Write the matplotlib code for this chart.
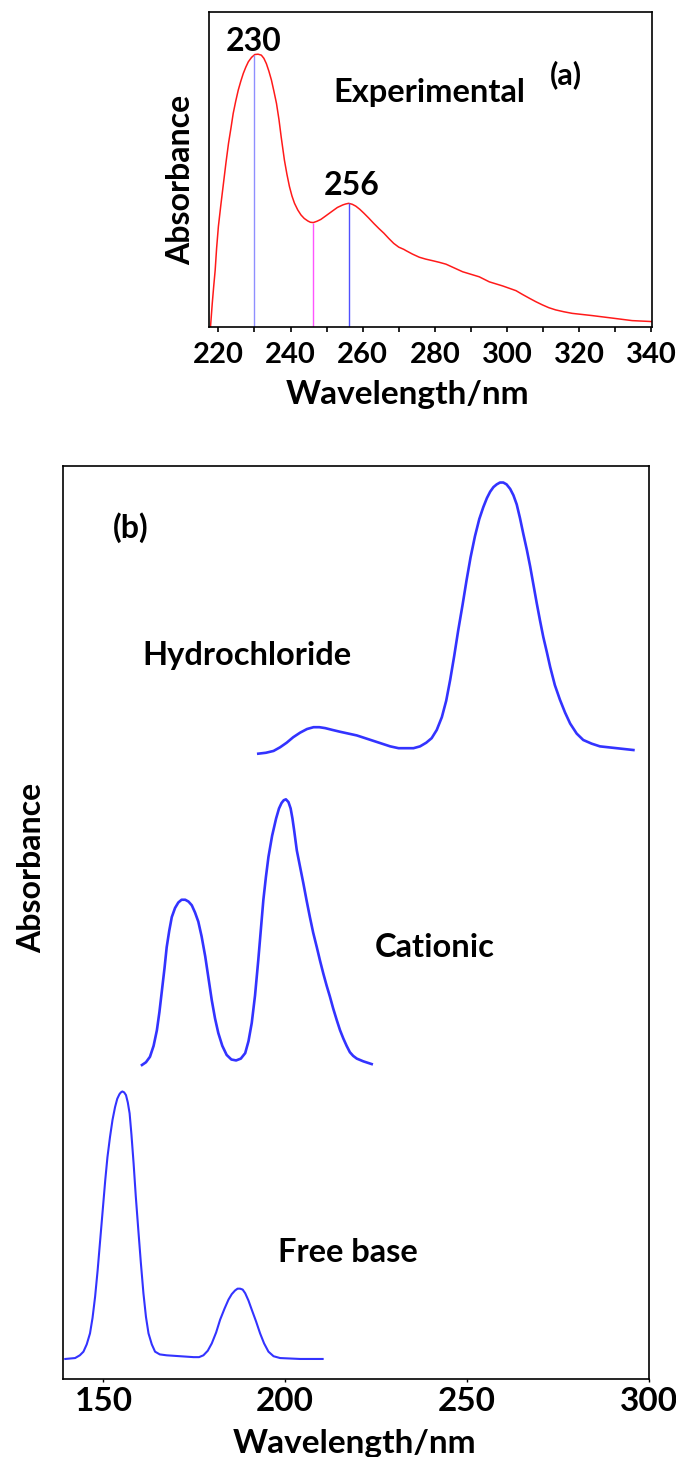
import matplotlib
matplotlib.use("Agg")
import matplotlib.pyplot as plt
from matplotlib.ticker import MultipleLocator

plt.rcParams['font.family'] = ['Lato', 'DejaVu Sans']
plt.rcParams['font.weight'] = 'bold'
plt.rcParams['axes.labelweight'] = 'bold'

# (a) experimental spectrum
exp_nm = [217.8, 218.0, 218.3, 218.7, 219.1, 219.5, 220.0, 220.7, 221.4, 222.1,
          222.8, 223.5, 224.1, 224.8, 225.5, 226.2, 226.9, 227.6, 228.3, 229.2,
          230.1, 231.0, 231.9, 232.6, 233.3, 234.0, 234.7, 235.4, 236.1, 236.8,
          237.4, 238.3, 239.0, 239.7, 240.4, 241.1, 242.0, 242.9, 243.8, 244.8,
          245.5, 246.3, 247.3, 248.4, 249.5, 250.7, 251.9, 253.0, 254.5, 255.3,
          256.1, 257.1, 258.1, 259.2, 260.4, 261.7, 263.1, 264.5, 265.9, 267.2,
          268.6, 270.0, 271.4, 272.0, 273.8, 275.7, 277.5, 279.4, 281.2, 283.1,
          285.4, 287.7, 290.0, 292.3, 295.1, 298.8, 302.5, 304.3, 306.2, 308.0,
          309.8, 311.6, 313.5, 315.8, 318.1, 323.6, 329.2, 334.7, 340.2]
exp_abs = [0.0, 0.03, 0.076, 0.13, 0.18, 0.25, 0.32, 0.39, 0.456, 0.522,
           0.583, 0.633, 0.678, 0.717, 0.752, 0.780, 0.805, 0.825, 0.842, 0.856,
           0.865, 0.866, 0.863, 0.853, 0.836, 0.812, 0.784, 0.748, 0.71, 0.658,
           0.604, 0.53, 0.485, 0.446, 0.416, 0.393, 0.372, 0.356, 0.345, 0.337,
           0.333, 0.332, 0.336, 0.342, 0.351, 0.361, 0.371, 0.38, 0.388, 0.391,
           0.393, 0.390, 0.384, 0.374, 0.361, 0.346, 0.329, 0.313, 0.298, 0.282,
           0.266, 0.254, 0.247, 0.243, 0.232, 0.222, 0.216, 0.211, 0.206, 0.2,
           0.188, 0.176, 0.168, 0.16, 0.144, 0.131, 0.116, 0.104, 0.092, 0.081,
           0.071, 0.062, 0.055, 0.049, 0.044, 0.037, 0.029, 0.021, 0.018]
mark_nm = [230.0, 246.3, 256.1]
mark_top = [0.865, 0.332, 0.393]
mark_colors = ['#8f8fff', '#ff55ff', '#5050ff']

# (b) calculated spectra (offset vertically)
hcl_nm = [192.6, 194.7, 196.8, 198.6, 200.4, 202.2, 204.1, 206.0, 207.8, 209.4,
          211.0, 213.0, 215.1, 217.4, 219.7, 222.0, 224.3, 226.6, 228.9, 231.2,
          233.5, 235.3, 237.1, 238.8, 240.3, 241.7, 243.1, 244.3, 245.4, 246.5,
          247.6, 248.8, 249.9, 251.0, 252.2, 253.4, 254.5, 255.5, 256.4, 257.3,
          258.2, 259.1, 260.0, 260.9, 261.9, 262.8, 263.7, 264.6, 265.5, 266.5,
          267.4, 268.3, 269.2, 270.1, 271.0, 272.0, 272.9, 274.2, 275.6, 277.0,
          278.4, 280.2, 282.0, 284.3, 286.6, 291.2, 295.8]
hcl_abs = [0.685, 0.686, 0.688, 0.692, 0.697, 0.703, 0.708, 0.712, 0.714, 0.714,
           0.713, 0.711, 0.709, 0.707, 0.705, 0.702, 0.699, 0.696, 0.693, 0.691,
           0.691, 0.691, 0.693, 0.697, 0.702, 0.711, 0.725, 0.743, 0.766, 0.792,
           0.820, 0.848, 0.875, 0.900, 0.923, 0.942, 0.955, 0.965, 0.972, 0.977,
           0.980, 0.982, 0.982, 0.980, 0.975, 0.968, 0.958, 0.943, 0.926, 0.908,
           0.890, 0.870, 0.850, 0.831, 0.813, 0.796, 0.780, 0.760, 0.744, 0.730,
           0.718, 0.707, 0.700, 0.696, 0.693, 0.691, 0.689]

cat_nm = [160.6, 161.7, 162.8, 163.8, 164.7, 165.4, 166.1, 166.8, 167.4, 168.1,
          168.8, 169.7, 170.6, 171.5, 172.5, 173.4, 174.3, 175.2, 176.1, 177.0,
          178.0, 178.9, 179.8, 180.7, 181.6, 182.7, 183.9, 185.2, 186.5, 187.8,
          189.0, 189.9, 190.8, 191.7, 192.6, 193.3, 194.0, 194.7, 195.4, 196.4,
          197.5, 198.3, 199.0, 199.6, 200.2, 200.9, 201.5, 202.0, 202.5, 203.2,
          204.1, 205.0, 205.9, 206.8, 207.7, 208.7, 209.6, 210.5, 211.4, 212.3,
          213.2, 214.2, 215.1, 216.0, 216.9, 217.8, 218.7, 219.7, 221.5, 223.8]
cat_abs = [0.344, 0.347, 0.353, 0.365, 0.382, 0.402, 0.426, 0.450, 0.473, 0.491,
           0.506, 0.516, 0.522, 0.525, 0.525, 0.523, 0.519, 0.511, 0.501, 0.485,
           0.463, 0.439, 0.415, 0.395, 0.379, 0.365, 0.355, 0.350, 0.349, 0.351,
           0.357, 0.370, 0.390, 0.420, 0.459, 0.492, 0.525, 0.550, 0.572, 0.595,
           0.614, 0.625, 0.631, 0.634, 0.635, 0.632, 0.625, 0.614, 0.600, 0.579,
           0.561, 0.543, 0.524, 0.506, 0.489, 0.473, 0.458, 0.444, 0.431, 0.419,
           0.406, 0.393, 0.382, 0.373, 0.365, 0.358, 0.354, 0.351, 0.348, 0.345]

free_nm = [139.5, 142.2, 143.5, 144.5, 145.4, 146.3, 147.0, 147.7, 148.4, 149.1,
           149.8, 150.5, 151.1, 151.8, 152.5, 153.2, 153.8, 154.4, 154.8, 155.2,
           155.7, 156.2, 156.7, 157.2, 157.7, 158.3, 158.9, 159.6, 160.3, 161.0,
           161.7, 162.4, 163.3, 164.2, 165.5, 167.4, 171.1, 174.8, 176.3, 177.5,
           178.7, 179.8, 181.0, 182.1, 183.3, 184.4, 185.3, 186.2, 186.9, 187.6,
           188.3, 189.0, 189.9, 190.8, 192.0, 193.1, 194.2, 195.4, 196.8, 198.6,
           204.1, 210.3]
free_abs = [0.022, 0.023, 0.026, 0.030, 0.038, 0.050, 0.067, 0.090, 0.119, 0.152,
            0.185, 0.218, 0.243, 0.265, 0.284, 0.298, 0.307, 0.312, 0.314, 0.315,
            0.314, 0.311, 0.303, 0.291, 0.268, 0.236, 0.200, 0.163, 0.127, 0.094,
            0.068, 0.050, 0.038, 0.030, 0.027, 0.026, 0.025, 0.024, 0.024, 0.026,
            0.031, 0.039, 0.051, 0.065, 0.077, 0.087, 0.093, 0.097, 0.099, 0.099,
            0.098, 0.094, 0.086, 0.076, 0.063, 0.050, 0.039, 0.030, 0.025, 0.023,
            0.022, 0.022]

fig = plt.figure(figsize=(6.76, 14.57), dpi=100)

# ---- panel (a)
ax1 = fig.add_axes([0.3092, 0.7754, 0.6553, 0.2164])
ax1.plot(exp_nm, exp_abs, color='#ff1a1a', lw=1.1)
ax1.vlines(mark_nm, 0, mark_top, colors=mark_colors, lw=1.0)
ax1.set_xlim(217.4, 340.2)
ax1.set_ylim(0, 1)
ax1.set_yticks([])
ax1.xaxis.set_major_locator(MultipleLocator(20))
ax1.xaxis.set_minor_locator(MultipleLocator(10))
ax1.tick_params(axis='x', which='both', direction='out', length=3.6, width=1.2,
                labelsize=21, pad=7)
for lbl in ax1.get_xticklabels():
    lbl.set_fontweight('bold')
for s in ax1.spines.values():
    s.set_linewidth(1.2)
ax1.text(229.9, 0.876, '230', ha='center', va='baseline', fontsize=23)
ax1.text(256.8, 0.419, '256', ha='center', va='baseline', fontsize=23)
ax1.text(278.6, 0.715, 'Experimental', ha='center', va='baseline', fontsize=23.5)
ax1.text(316.4, 0.80, '(a)', ha='center', va='center', fontsize=22)
ax1.set_xlabel('Wavelength/nm', fontsize=24, va='baseline')
ax1.xaxis.set_label_coords(0.449, -0.245)
ax1.set_ylabel('Absorbance', fontsize=23, va='baseline')
ax1.yaxis.set_label_coords(-0.043, 0.467)

# ---- panel (b)
ax2 = fig.add_axes([0.0928, 0.0535, 0.8673, 0.6266])
blue = '#3333ff'
ax2.plot(hcl_nm, hcl_abs, color=blue, lw=1.9)
ax2.plot(cat_nm, cat_abs, color=blue, lw=1.9)
ax2.plot(free_nm, free_abs, color=blue, lw=1.5)
ax2.set_xlim(138.8, 300.1)
ax2.set_ylim(0, 1)
ax2.set_yticks([])
ax2.set_xticks([150, 200, 250, 300])
ax2.tick_params(axis='x', direction='out', length=2.5, width=1.0,
                labelsize=24, pad=3)
for lbl in ax2.get_xticklabels():
    lbl.set_fontweight('bold')
for s in ax2.spines.values():
    s.set_linewidth(1.2)
ax2.text(157.6, 0.933, '(b)', ha='center', va='center', fontsize=23)
ax2.text(189.5, 0.782, 'Hydrochloride', ha='center', va='baseline', fontsize=23.5)
ax2.text(241.2, 0.462, 'Cationic', ha='center', va='baseline', fontsize=23.5)
ax2.text(217.3, 0.128, 'Free base', ha='center', va='baseline', fontsize=23.5)
ax2.set_xlabel('Wavelength/nm', fontsize=24, va='baseline')
ax2.xaxis.set_label_coords(0.4985, -0.081)
ax2.set_ylabel('Absorbance', fontsize=23, va='baseline')
ax2.yaxis.set_label_coords(-0.037, 0.56)

fig.savefig('out.png', dpi=100)
